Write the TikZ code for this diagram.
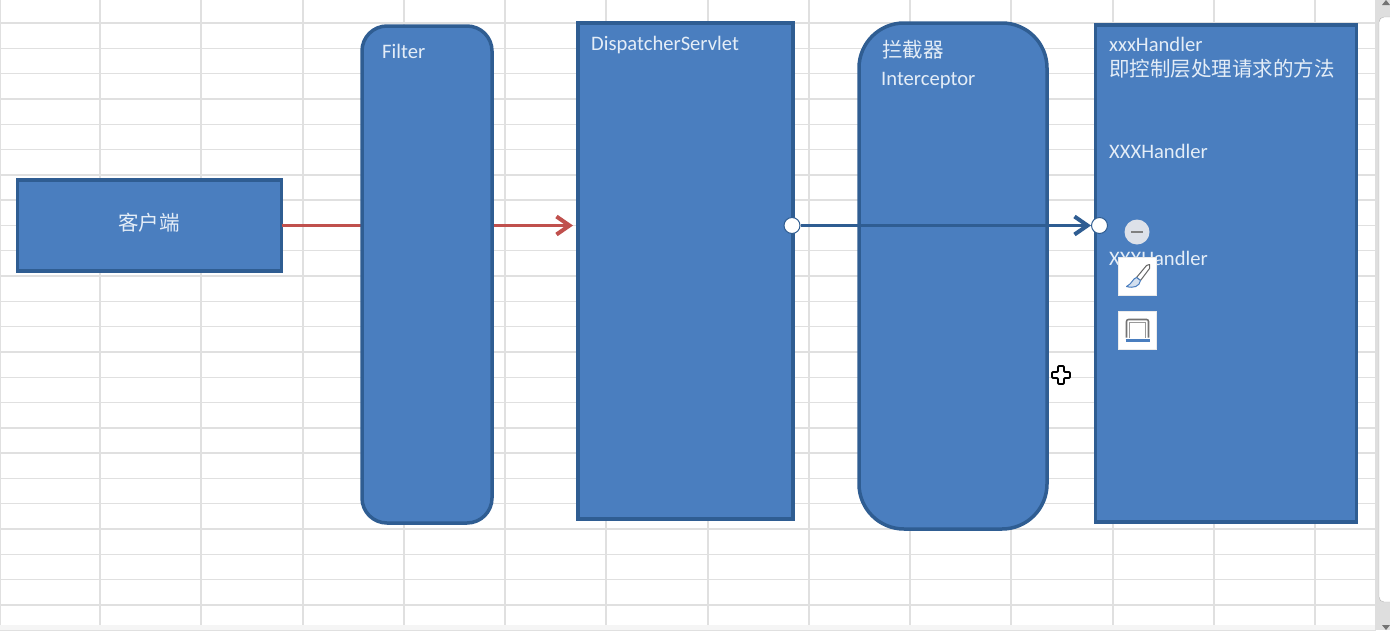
\documentclass[tikz,border=0pt]{standalone}
\usepackage{fontspec}
\setmainfont{Carlito}
\newfontfamily\cjk{Noto Sans CJK SC}
\usepackage{tikz}
\usetikzlibrary{arrows.meta}
\definecolor{boxfill}{HTML}{4A7EBF}
\definecolor{boxline}{HTML}{2F5D92}
\definecolor{redline}{HTML}{C0504D}
\definecolor{gridline}{HTML}{E0E0E0}
\definecolor{boxtext}{HTML}{E4EDF7}
\definecolor{minusfill}{HTML}{DDE1E9}
\tikzset{
  x=1pt, y=-1pt,
  flatbox/.style={draw=boxline, fill=boxfill, line width=3.5pt, minimum width=#1, inner sep=0pt, outer sep=0pt},
  label/.style={text=boxtext, anchor=west, inner sep=0pt, text height=12pt, text depth=0pt, font=\fontsize{20.6}{20.6}\selectfont},
  cnlabel/.style={text=boxtext, anchor=west, inner sep=0pt, font=\cjk\fontsize{20.5}{20.5}\selectfont},
  handle/.style={circle, draw=boxline, fill=white, line width=1pt, minimum size=16pt, inner sep=0pt},
  iconbtn/.style={draw=black!8, fill=white, line width=1pt, minimum size=38pt, inner sep=0pt},
  barb/.style={-{Straight Barb[length=13pt,width=18pt,line width=4pt]}}
}
\begin{document}
\begin{tikzpicture}
  \useasboundingbox (0,0) rectangle (1390,630);
  \fill[white] (0,0) rectangle (1390,630);
  % sheet grid
  \foreach \gx in {0,100,201,303,404,505,606,708,809,910,1011,1113,1214,1315}
    \draw[gridline, line width=1.4pt] (\gx,0) -- (\gx,630);
  \foreach \gy in {0,...,24}
    \draw[gridline, line width=1.4pt] (0,23+25.3*\gy) -- (1376,23+25.3*\gy);
  % scroll bar
  \fill[black!13] (1375,0) rectangle (1390,630);
  \draw[black!30, fill=white, rounded corners=5pt] (1379,17) rectangle (1400,602);
  \fill[black!55] (1382,5) -- (1386,0) -- (1390,5) -- cycle;
  \fill[black!55] (1382,625) -- (1390,625) -- (1386,630) -- cycle;
  \fill[black!4] (0,625) rectangle (1375,630);

  % red arrow goes behind the filter
  \node[flatbox=264pt, minimum height=91pt] (client) at (149.5,225.5) {};
  \node[flatbox=215pt, minimum height=496pt] (dispatcher) at (685.5,271) {};
  \draw[redline, line width=3.5pt, barb, shorten >=5pt] (client.east) -- (client -| dispatcher.west);
  \node[flatbox=130pt, minimum height=497pt, rounded corners=25pt] (filter) at (427,274.5) {};
  \node[flatbox=188pt, minimum height=506pt, rounded corners=45pt] (interceptor) at (953,276) {};
  \node[flatbox=261pt, minimum height=497pt] (handler) at (1226,273.5) {};

  \node[cnlabel] (clientText) at (118,223) {客户端};
  \node[label] (filterText) at (382,52) {Filter};
  \node[label] (dispatcherText) at (591,44) {DispatcherServlet};
  \node[cnlabel] (interceptorCn) at (882,50) {拦截器};
  \node[label] (interceptorText) at (881,79) {Interceptor};
  \node[label] (handlerText) at (1109,45) {xxxHandler};
  \node[cnlabel] (handlerCn) at (1109,69) {即控制层处理请求的方法};
  \node[label] (handlerOne) at (1109,152) {XXXHandler};
  \node[label] (handlerTwo) at (1109,259) {XXXHandler};

  % connector with its end handles
  \node[handle, xshift=-1pt] (startDot) at (client -| dispatcher.east) {};
  \node[handle, xshift=4pt] (endDot) at (client -| handler.west) {};
  \draw[boxline, line width=3pt, barb] (startDot) -- (endDot);

  % selection widgets
  \node[circle, fill=minusfill, minimum size=25pt, inner sep=0pt] (minusBtn) at (1137,232) {};
  \draw[black!50, line width=2.6pt] ([xshift=-6pt]minusBtn.center) -- ([xshift=6pt]minusBtn.center);
  \node[iconbtn] (brushBtn) at (1137.5,276.5) {};
  \node[iconbtn] (frameBtn) at (1137.5,330.5) {};
  \begin{scope}[shift={(brushBtn.center)}]
    \draw[black!60, fill=white, line width=1pt, line join=round] (-1,1) -- (9,-11) -- (12,-12) -- (12,-8) -- (3,4) -- cycle;
    \draw[boxfill, fill=boxfill!25, line width=1pt, line join=round] (-1,1) .. controls (-5,2) and (-5,7) .. (-11,10) .. controls (-4,12) and (2,10) .. (3,4) -- cycle;
  \end{scope}
  \begin{scope}[shift={(frameBtn.center)}]
    \draw[black!55, line width=1.6pt, rounded corners=2pt] (-11,7) -- (-11,-11) -- (11,-11) -- (11,7);
    \draw[black!40, line width=1.6pt] (-8,7) -- (-8,-8) -- (8,-8) -- (8,7);
    \draw[boxfill, line width=2.6pt] (-12,10) -- (12,10);
  \end{scope}

  % move cursor
  \draw[black, fill=white, line width=1.8pt, line join=round, rounded corners=1pt] (1058,366) -- (1064,366) -- (1064,372) -- (1070,372) -- (1070,378) -- (1064,378) -- (1064,384) -- (1058,384) -- (1058,378) -- (1052,378) -- (1052,372) -- (1058,372) -- cycle;
\end{tikzpicture}
\end{document}
